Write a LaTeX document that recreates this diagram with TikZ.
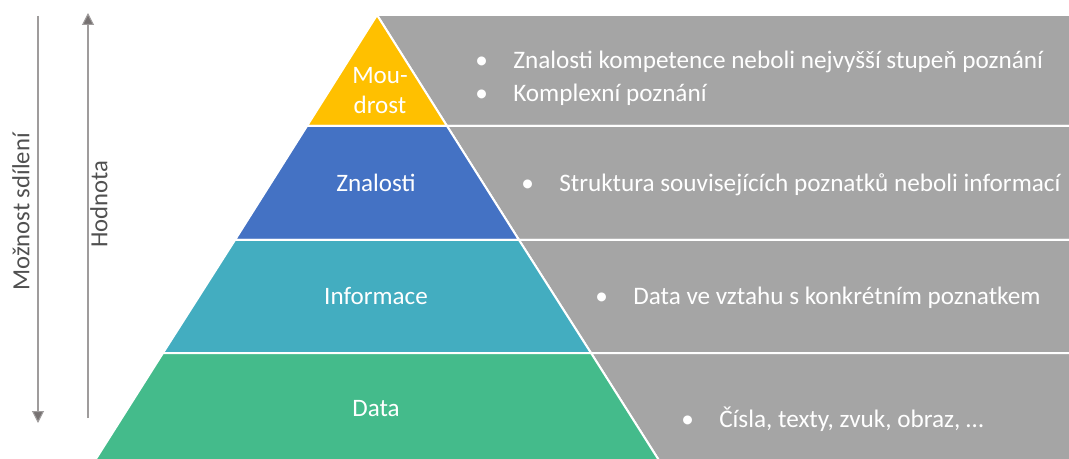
\documentclass[tikz,border=0pt]{standalone}
\usepackage{fontspec}
\setmainfont{Carlito}
\usetikzlibrary{arrows.meta}
\definecolor{moudrost}{RGB}{255,192,0}
\definecolor{znalosti}{RGB}{68,114,196}
\definecolor{informace}{RGB}{67,173,192}
\definecolor{datacol}{RGB}{68,187,139}
\definecolor{pasmo}{RGB}{165,165,165}
\definecolor{sipka}{RGB}{118,113,113}
\definecolor{popis}{RGB}{80,80,80}
\newcommand{\bod}[1]{\makebox[28.5pt][l]{\textbullet}#1}
\begin{document}
\begin{tikzpicture}[x=0.75pt,y=-0.75pt,
	level/.style={draw=white, line width=1.5pt},
	band/.style={fill=pasmo, draw=white, line width=1.5pt},
	label/.style={text=white, font=\fontsize{18.8}{22.5}\selectfont, inner sep=0pt},
	bullets/.style={text=white, font=\fontsize{18.9}{24.75}\selectfont, inner sep=0pt, anchor=base west, align=left},
	axis/.style={draw=sipka!70, line width=0.8pt, -{Triangle[length=9pt,width=9pt,fill=sipka]}},
	axislabel/.style={text=popis, font=\fontsize{18.5}{22}\selectfont, rotate=90, inner sep=0pt}]
	\useasboundingbox (0,0) rectangle (1069,459);

	% gray bands
	\path[band] (377,15) -- (1072,15) -- (1072,126) -- (447,126) -- cycle;
	\path[band] (447,126) -- (1072,126) -- (1072,240) -- (519,240) -- cycle;
	\path[band] (519,240) -- (1072,240) -- (1072,353) -- (591,353) -- cycle;
	\path[band] (591,353) -- (1072,353) -- (1072,462) -- (660,462) -- cycle;

	% pyramid levels
	\path[level, fill=moudrost] (377,15) -- (447,126) -- (307,126) -- cycle;
	\path[level, fill=znalosti] (307,126) -- (447,126) -- (519,240) -- (235,240) -- cycle;
	\path[level, fill=informace] (235,240) -- (519,240) -- (591,353) -- (163,353) -- cycle;
	\path[level, fill=datacol] (163,353) -- (591,353) -- (660,462) -- (94,462) -- cycle;

	\node[label, align=center, anchor=base] (m) at (380,114) {Mou-\\drost};
	\node[label, anchor=base] (z) at (376,192) {Znalosti};
	\node[label, anchor=base] (i) at (376,304) {Informace};
	\node[label, anchor=base] (d) at (376,416) {Data};

	\node[bullets] (tm) at (475,102) {\bod{Znalosti kompetence neboli nejvyšší stupeň poznání}\\\bod{Komplexní poznání}};
	\node[bullets] (tz) at (521,192) {\bod{Struktura souvisejících poznatků neboli informací}};
	\node[bullets] (ti) at (595,304) {\bod{Data ve vztahu s konkrétním poznatkem}};
	\node[bullets] (td) at (681,427) {\bod{Čísla, texty, zvuk, obraz, …}};

	% axes on the left
	\coordinate (s1) at (38,16);
	\coordinate (s2) at (38,423);
	\coordinate (h1) at (88,418);
	\coordinate (h2) at (88,13);
	\draw[axis] (s1) -- (s2);
	\draw[axis] (h1) -- (h2);
	\node[axislabel] (sdileni) at (21,212) {Možnost sdílení};
	\node[axislabel] (hodnota) at (99,204) {Hodnota};
\end{tikzpicture}
\end{document}
